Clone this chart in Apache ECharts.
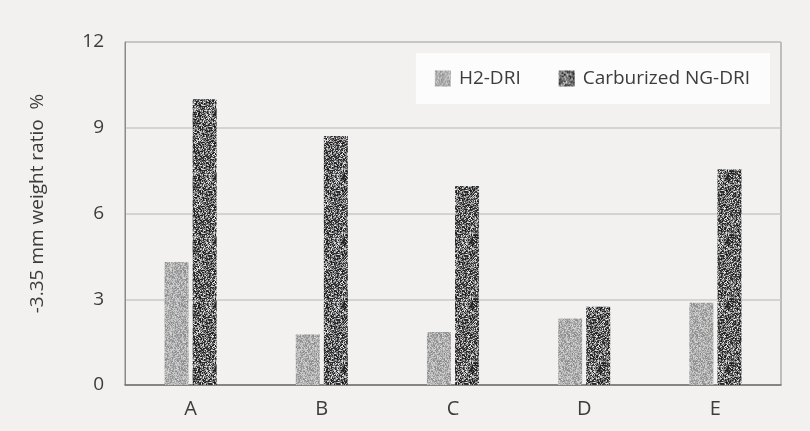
<!DOCTYPE html>
<html><head><meta charset="utf-8">
<script src="https://cdn.jsdelivr.net/npm/echarts@6/dist/echarts.min.js"></script>
<style>html,body{margin:0;padding:0;background:#f2f1f0;}#c{width:810px;height:431px;}</style>
</head><body><div id="c"></div>
<script>
const categories = ['A', 'B', 'C', 'D', 'E'];
const h2Values = [4.3, 1.77, 1.85, 2.33, 2.88];
const ngValues = [10.0, 8.71, 6.96, 2.74, 7.55];
const seriesNames = ['H2-DRI', 'Carburized NG-DRI'];
const yTicks = [0, 3, 6, 9, 12];

// deterministic stipple texture (style only)
function makeTexture(seed, lo, hi, bias) {
  const size = 64;
  const cv = document.createElement('canvas');
  cv.width = size; cv.height = size;
  const ctx = cv.getContext('2d');
  const img = ctx.createImageData(size, size);
  let s = seed >>> 0;
  function rnd() { s = (s * 1664525 + 1013904223) >>> 0; return s / 4294967296; }
  for (let i = 0; i < size * size; i++) {
    let r = rnd();
    r = Math.pow(r, bias);
    const v = Math.round(lo + (hi - lo) * r);
    img.data[i * 4] = v; img.data[i * 4 + 1] = v; img.data[i * 4 + 2] = v; img.data[i * 4 + 3] = 255;
  }
  ctx.putImageData(img, 0, 0);
  return cv;
}
const texH2 = makeTexture(12345, 135, 215, 1.0);
const texNG = makeTexture(67890, 25, 240, 1.6);

const font = "'Open Sans', 'Noto Sans', sans-serif";
const txt = '#3c3c3c';
const chart = echarts.init(document.getElementById('c'), null, { renderer: 'canvas' });
chart.setOption({
  backgroundColor: '#f2f1f0',
  animation: false,
  textStyle: { fontFamily: font },
  grid: { left: 125, right: 29, top: 42, bottom: 46, show: true, borderColor: '#8a8a8a', borderWidth: 1, backgroundColor: 'transparent' },
  legend: {
    data: seriesNames,
    right: 40, top: 53,
    backgroundColor: '#fcfcfc',
    padding: [16, 20, 16, 19],
    itemWidth: 16, itemHeight: 16, itemGap: 38,
    icon: 'rect',
    textStyle: { fontFamily: font, fontSize: 19, color: txt, padding: [0, 0, 0, 3] }
  },
  xAxis: {
    type: 'category', data: categories,
    axisLine: { lineStyle: { color: '#707070', width: 1.5 } },
    axisTick: { show: false },
    axisLabel: { fontFamily: font, fontSize: 20, color: txt, margin: 14 }
  },
  yAxis: {
    type: 'value', min: yTicks[0], max: yTicks[yTicks.length - 1], interval: 3,
    name: '-3.35 mm weight ratio  %', nameLocation: 'middle', nameGap: 78, nameRotate: 90,
    nameTextStyle: { fontFamily: font, fontSize: 19, color: txt, padding: [0, 0, 0, 20] },
    axisLine: { show: true, lineStyle: { color: '#8a8a8a', width: 1 } },
    axisTick: { show: false },
    axisLabel: { fontFamily: font, fontSize: 19, color: txt, margin: 21 },
    splitLine: { lineStyle: { color: '#c8c8c8', width: 1.5 } }
  },
  series: [
    { name: seriesNames[0], type: 'bar', data: h2Values, barWidth: 24, barGap: '17%',
      itemStyle: { color: { image: texH2, repeat: 'repeat' } } },
    { name: seriesNames[1], type: 'bar', data: ngValues, barWidth: 24,
      itemStyle: { color: { image: texNG, repeat: 'repeat' } } }
  ]
});
</script></body></html>
